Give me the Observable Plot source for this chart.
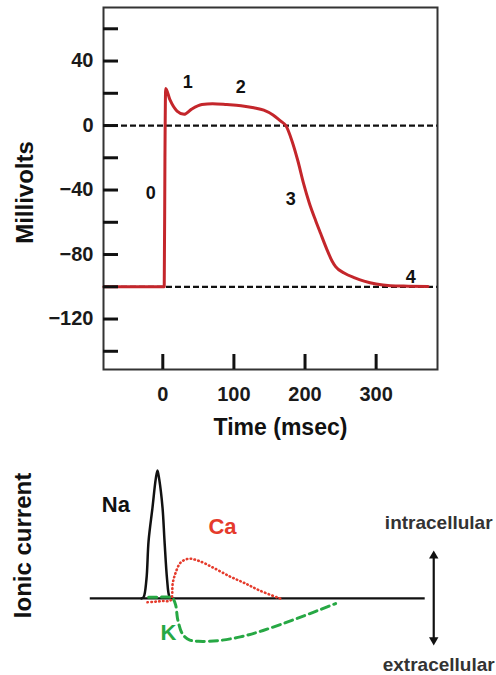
<!DOCTYPE html>
<html>
<head>
<meta charset="utf-8">
<script src="https://cdn.jsdelivr.net/npm/d3@7"></script>
<script src="https://cdn.jsdelivr.net/npm/@observablehq/plot@0.6"></script>
<style>
  html, body { margin: 0; padding: 0; background: #fff; }
  #chart { width: 496px; }
  svg { display: block; }
</style>
</head>
<body>
<div id="chart"></div>
<script>
// ---------- Action potential (top) ----------
const apTime = [-83, 2, 3, 4, 10, 20, 30, 40, 55, 70, 90, 110, 128, 142, 155, 165, 173, 182, 190, 198, 206, 215, 222, 230, 238, 243, 255, 270, 283, 300, 320, 345, 373];
const apMv   = [-100, -100, -20, 23, 16, 9, 7, 10, 13, 13.5, 13, 12.3, 11, 9.5, 6.5, 3, 0, -10, -22, -36, -48, -59, -67, -76, -84, -87.5, -91.5, -94.5, -96.5, -98.3, -99.3, -99.6, -99.8];
const phaseText = ["0", "1", "2", "3", "4"];
const phaseTime = [-17, 35, 109.6, 180, 348.6];
const phaseMv   = [-42, 26.7, 23.6, -46, -94];
const guideLevels = [0, -100];
const yTickMinor = [60, 40, 20, 0, -20, -40, -60, -80, -100, -120, -140];
const yTickLabels = [40, 0, -40, -80, -120];
const xTicks = [0, 100, 200, 300];
const xDomain = [-83.4, 386.3];
const yDomain = [-151.3, 73.2];

// ---------- Ionic currents (bottom) ----------
const baselineSpan = [-102, 369];
const naTime = [-30, -27, -23, -20, -14.5, -10, -7.5, -5, -0.4, 2.4, 6, 9, 12];
const naCur  = [0, 0.01, 0.15, 0.45, 0.71, 0.93, 1.0, 0.93, 0.71, 0.45, 0.15, 0.02, 0];
const caTime = [-21.5, -10, 0, 11, 14, 18, 25, 36, 50, 71, 95, 115, 137, 165];
const caCur  = [-0.03, -0.025, -0.02, -0.015, 0.12, 0.2, 0.28, 0.31, 0.295, 0.24, 0.17, 0.12, 0.06, 0];
const kTime  = [-20, -5, 10, 14, 18, 20.5, 22.5, 26, 31, 38, 50, 77, 109, 141, 189, 243];
const kCur   = [0.01, 0.01, 0.01, 0, -0.05, -0.15, -0.2, -0.26, -0.3, -0.325, -0.335, -0.33, -0.30, -0.25, -0.156, -0.04];
const ionText  = ["Na", "Ca", "K"];
const ionTime  = [-66, 84, 8];
const ionCur   = [0.73, 0.56, -0.27];
const ionColor = ["#111111", "#e53b2c", "#27a844"];
const sideText = ["intracellular", "extracellular"];
const sideTime = [388, 388];
const sideCur  = [0.59, -0.52];
const arrowTime = 381;
const arrowEnds = [0.333, -0.325];

const FONT = "'Liberation Sans', Arial, Helvetica, sans-serif";

const ap = apTime.map((t, i) => ({t, v: apMv[i]}));
const phases = phaseText.map((s, i) => ({s, t: phaseTime[i], v: phaseMv[i]}));

const apChart = Plot.plot({
  width: 496, height: 450,
  marginLeft: 103, marginRight: 59, marginTop: 7, marginBottom: 81,
  style: {fontFamily: FONT, background: "#fff", overflow: "visible"},
  x: {domain: xDomain, label: null},
  y: {domain: yDomain, label: null},
  marks: [
    Plot.ruleY(guideLevels, {stroke: "#111", strokeWidth: 2.2, strokeDasharray: "6,3"}),
    Plot.line(ap, {x: "t", y: "v", curve: "monotone-x", stroke: "#c4262b", strokeWidth: 3}),
    Plot.frame({stroke: "#333", strokeWidth: 2}),
    Plot.axisY(yTickMinor, {anchor: "left", tickSize: -15, strokeWidth: 3, stroke: "#111", tickFormat: () => "", label: null}),
    Plot.axisY(yTickLabels, {anchor: "left", tickSize: 0, tickPadding: 10, fontSize: 20, fontWeight: "bold", fill: "#1a1a1a", tickFormat: d => d < 0 ? "\u2212" + Math.abs(d) : String(d), label: null}),
    Plot.axisX(xTicks, {anchor: "bottom", tickSize: -15, strokeWidth: 3, stroke: "#111", tickFormat: () => "", label: null}),
    Plot.axisX(xTicks, {anchor: "bottom", tickSize: 0, tickPadding: 17, fontSize: 20, fontWeight: "bold", fill: "#1a1a1a", label: null}),
    Plot.text(phases, {x: "t", y: "v", text: "s", fontSize: 18, fontWeight: "bold", fill: "#111"}),
    Plot.text(["Millivolts"], {frameAnchor: "left", textAnchor: "middle", lineAnchor: "middle", rotate: -90, dx: -78, dy: 4, fontSize: 24, fontWeight: "bold", fill: "#111"}),
    Plot.text(["Time (msec)"], {frameAnchor: "bottom", textAnchor: "middle", lineAnchor: "middle", dx: 10, dy: 58, fontSize: 23, fontWeight: "bold", fill: "#111"})
  ]
});

const na = naTime.map((t, i) => ({t, c: naCur[i]}));
const ca = caTime.map((t, i) => ({t, c: caCur[i]}));
const kk = kTime.map((t, i) => ({t, c: kCur[i]}));
const ions = ionText.map((s, i) => ({s, t: ionTime[i], c: ionCur[i], col: ionColor[i]}));
const sides = sideText.map((s, i) => ({s, t: sideTime[i], c: sideCur[i]}));
const heads = [{t: arrowTime, c: arrowEnds[0], r: 0}, {t: arrowTime, c: arrowEnds[1], r: 180}];

const ionChart = Plot.plot({
  width: 496, height: 225,
  marginLeft: 0, marginRight: 0, marginTop: 0, marginBottom: 0,
  style: {fontFamily: FONT, background: "#fff", overflow: "visible"},
  x: {domain: xDomain, range: [103, 437], axis: null},
  y: {domain: [-0.602, 1.156], range: [225, 0], axis: null},
  marks: [
    Plot.ruleY([0], {x1: baselineSpan[0], x2: baselineSpan[1], stroke: "#111", strokeWidth: 2.2}),
    Plot.line(na, {x: "t", y: "c", curve: "catmull-rom", stroke: "#111", strokeWidth: 2.5}),
    Plot.line(kk, {x: "t", y: "c", curve: "catmull-rom", stroke: "#27a844", strokeWidth: 3, strokeDasharray: "8,5"}),
    Plot.line(ca, {x: "t", y: "c", curve: "catmull-rom", stroke: "#e53b2c", strokeWidth: 2.6, strokeDasharray: "0.5,3.4", strokeLinecap: "round"}),
    Plot.ruleX([arrowTime], {y1: arrowEnds[0], y2: arrowEnds[1], stroke: "#111", strokeWidth: 2.2}),
    Plot.dot(heads, {x: "t", y: "c", rotate: "r", symbol: "triangle2", r: 4.5, fill: "#111", stroke: null}),
    Plot.text(ions, {x: "t", y: "c", text: "s", fill: "col", fontSize: 22, fontWeight: "bold"}),
    Plot.text(sides, {x: "t", y: "c", text: "s", fontSize: 19, fontWeight: "bold", fill: "#333"}),
    Plot.text(["Ionic current"], {frameAnchor: "left", textAnchor: "middle", lineAnchor: "middle", rotate: -90, dx: 23, dy: -17.5, fontSize: 24, fontWeight: "bold", fill: "#111"})
  ]
});

document.getElementById("chart").append(apChart, ionChart);
</script>
</body>
</html>
